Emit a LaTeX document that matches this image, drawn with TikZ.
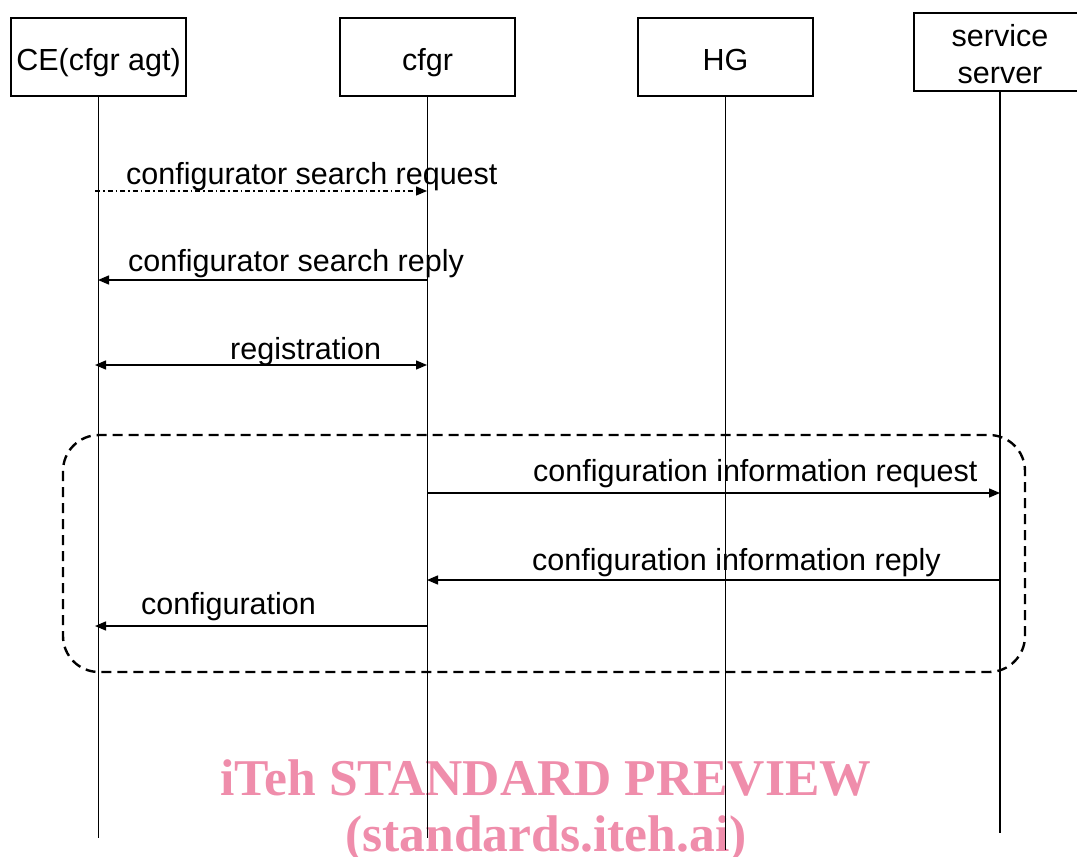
\documentclass[tikz,border=0pt]{standalone}
\usepackage{fontspec}
\setmainfont{Liberation Sans}
\newfontfamily\wmfont{Liberation Serif}
\usetikzlibrary{arrows.meta}
\definecolor{wmpink}{RGB}{239,141,171}
\tikzset{
  actor/.style={draw, line width=1.1pt, minimum width=175pt, minimum height=78pt, inner sep=0pt, font=\fontsize{30.5}{36}\selectfont, align=center},
  onerow/.style={text height=28pt, text depth=2pt},
  lifeline/.style={line width=1.3pt},
  msg/.style={line width=1.4pt, -{Triangle[length=11pt,width=9pt]}},
  msglabel/.style={anchor=base west, inner sep=0pt, font=\fontsize{30.5}{36}\selectfont},
  group/.style={line width=2.4pt, dash pattern=on 10pt off 6pt, rounded corners=36pt},
  watermark/.style={text=wmpink, font=\wmfont\bfseries\fontsize{51.6}{56}\selectfont, inner sep=0pt}
}
\begin{document}
\begin{tikzpicture}[x=1pt, y=-1pt]
\useasboundingbox (0,0) rectangle (1077,857);

% watermark, beneath the lifelines
\node[watermark, anchor=base] (wm1) at (546,795) {iTeh STANDARD PREVIEW};
\node[watermark, anchor=base] (wm2) at (546,851) {(standards.iteh.ai)};

% participants
\node[actor, onerow] (ce) at (98.5,57) {CE(cfgr agt)};
\node[actor, onerow] (cfgr) at (427.5,57) {cfgr};
\node[actor, onerow] (hg) at (725.5,57) {HG};
\node[actor, minimum width=172pt] (srv) at (1000,52) {};
\node[inner sep=0pt, font=\fontsize{30.5}{36}\selectfont, anchor=base] (srv1) at (1000,46) {service};
\node[inner sep=0pt, font=\fontsize{30.5}{36}\selectfont, anchor=base] (srv2) at (1000,83) {server};

% lifeline ends
\coordinate (ceEnd) at (98.5,838);
\coordinate (cfgrEnd) at (427.5,838);
\coordinate (hgEnd) at (725.5,850);
\coordinate (srvEnd) at (1000,833);

\draw[lifeline] (ce.south) -- (ceEnd);
\draw[lifeline] (cfgr.south) -- (cfgrEnd);
\draw[lifeline] (hg.south) -- (hgEnd);
\draw[lifeline] (srv.south) -- (srvEnd);

% grouping frame
\draw[group] (63,435) rectangle (1025,672);

% message end points
\coordinate (m1a) at (95,191);   \coordinate (m1b) at (427,191);
\coordinate (m2a) at (427,280);  \coordinate (m2b) at (98,280);
\coordinate (m3a) at (95,365);   \coordinate (m3b) at (427,365);
\coordinate (m4a) at (427,493);  \coordinate (m4b) at (1000,493);
\coordinate (m5a) at (1000,580); \coordinate (m5b) at (427,580);
\coordinate (m6a) at (427,626);  \coordinate (m6b) at (95,626);

% messages
\draw[msg, dash pattern=on 5pt off 3pt on 1.5pt off 3pt] (m1a) -- (m1b);
\draw[msg] (m2a) -- (m2b);
\draw[msg, {Triangle[length=11pt,width=9pt]}-{Triangle[length=11pt,width=9pt]}] (m3a) -- (m3b);
\draw[msg] (m4a) -- (m4b);
\draw[msg] (m5a) -- (m5b);
\draw[msg] (m6a) -- (m6b);

% message labels
\node[msglabel] (l1) at (126,184) {configurator search request};
\node[msglabel] (l2) at (128,271) {configurator search reply};
\node[msglabel] (l3) at (230,359) {registration};
\node[msglabel] (l4) at (533,481) {configuration information request};
\node[msglabel] (l5) at (532,570) {configuration information reply};
\node[msglabel] (l6) at (141,614) {configuration};
\end{tikzpicture}
\end{document}
